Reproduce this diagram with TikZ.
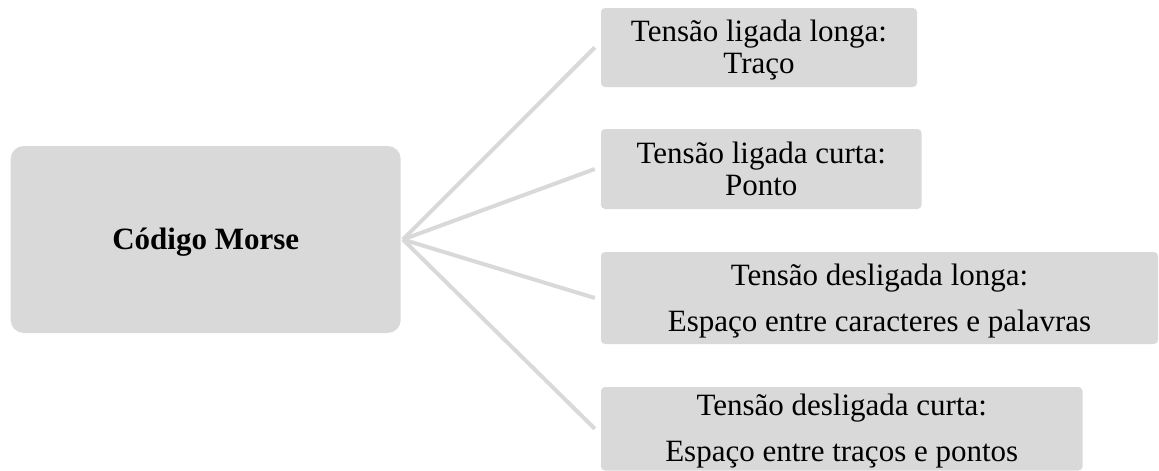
\documentclass[tikz,border=0pt]{standalone}
\usepackage{fontspec}
\setmainfont{Liberation Serif}
\definecolor{boxgray}{HTML}{D9D9D9}
\begin{document}
\begin{tikzpicture}[x=1pt,y=-1pt,
  mainbox/.style={fill=boxgray,draw=none,rounded corners=13pt,inner sep=0pt},
  leafbox/.style={fill=boxgray,draw=none,rounded corners=4pt,inner sep=0pt},
  txt/.style={anchor=base,inner sep=0pt,font=\fontsize{31}{32}\selectfont},
  conn/.style={draw=boxgray,line width=4pt}]
\useasboundingbox (0,0) rectangle (1159,471);
% boxes
\node[mainbox,minimum width=390pt,minimum height=187pt] (main) at (205.7,239.5) {};
\node[leafbox,minimum width=316pt,minimum height=79pt] (b1) at (759,47.5) {};
\node[leafbox,minimum width=320.5pt,minimum height=80pt] (b2) at (761.25,169) {};
\node[leafbox,minimum width=557pt,minimum height=92pt] (b3) at (879.5,298) {};
\node[leafbox,minimum width=481.5pt,minimum height=83.5pt] (b4) at (841.75,428.75) {};
% connectors
\coordinate (hub) at ([xshift=2pt]main.east);
\foreach \b in {b1,b2,b3,b4}
  \draw[conn] (hub) -- ([xshift=-6pt]\b.west);
% texts
\node[txt,font=\fontsize{31}{32}\selectfont\bfseries] (tmain) at (205.7,249.3) {Código Morse};
\node[txt] (t1a) at (759,41.7) {Tensão ligada longa:};
\node[txt] (t1b) at (759,73) {Traço};
\node[txt] (t2a) at (761.25,163.3) {Tensão ligada curta:};
\node[txt] (t2b) at (761.25,195) {Ponto};
\node[txt] (t3a) at (879.5,285.7) {Tensão desligada longa:};
\node[txt] (t3b) at (879.5,331) {Espaço entre caracteres e palavras};
\node[txt] (t4a) at (841.75,415) {Tensão desligada curta:};
\node[txt] (t4b) at (841.75,461.7) {Espaço entre traços e pontos};
\end{tikzpicture}
\end{document}
